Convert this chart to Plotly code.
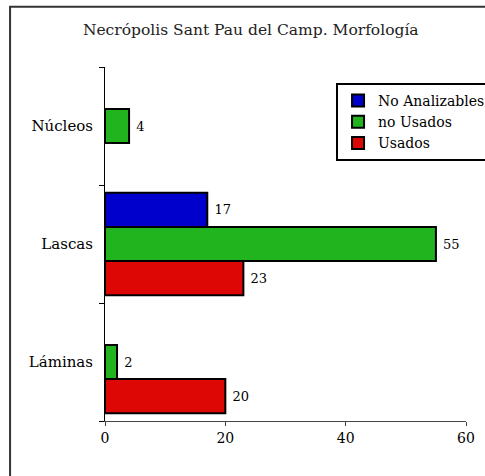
import plotly.graph_objects as go

categories = ["Láminas", "Lascas", "Núcleos"]
usados = [20, 23, None]
no_usados = [2, 55, 4]
no_analizables = [None, 17, None]
x_ticks = [0, 20, 40, 60]

FONT = "DejaVu Serif"

fig = go.Figure()
series = [
    ("Usados", usados, "#DD0806"),
    ("no Usados", no_usados, "#22B41E"),
    ("No Analizables", no_analizables, "#0000CC"),
]
for name, vals, col in series:
    fig.add_trace(go.Bar(
        name=name, y=categories, x=vals, orientation="h",
        marker=dict(color=col, line=dict(color="black", width=2)),
        text=[("" if v is None else " " + str(v)) for v in vals],
        textposition="outside", cliponaxis=False,
        textfont=dict(family=FONT, size=13, color="black"),
    ))

fig.update_layout(
    width=485, height=476,
    margin=dict(l=105, r=19, t=67, b=55, autoexpand=False),
    paper_bgcolor="white", plot_bgcolor="white",
    barmode="group", bargap=0.13, bargroupgap=0,
    font=dict(family=FONT, size=15, color="black"),
    title=dict(text="Necrópolis Sant Pau del Camp. Morfología",
               x=0.517, xanchor="center", y=0.937, yanchor="middle",
               font=dict(family=FONT, size=15.5, color="#222")),
    legend=dict(x=0.64, y=0.955, xanchor="left", yanchor="top",
                traceorder="reversed", bgcolor="white",
                bordercolor="black", borderwidth=2,
                font=dict(family=FONT, size=14, color="black"), itemwidth=30,
                tracegroupgap=0),
    showlegend=True,
    xaxis=dict(range=[0, 60], tickvals=x_ticks, showgrid=False, zeroline=False,
               showline=True, linecolor="#444", linewidth=1,
               ticks="outside", ticklen=4, tickcolor="#444",
               tickfont=dict(family=FONT, size=14)),
    yaxis=dict(categoryorder="array", categoryarray=categories,
               showgrid=False, zeroline=False, showline=True,
               linecolor="black", linewidth=1, ticks="outside",
               tickson="boundaries", ticklen=5, tickcolor="black",
               ticklabelstandoff=8,
               tickfont=dict(family=FONT, size=15)),
    shapes=[dict(type="rect", xref="paper", yref="paper",
                 x0=-0.263, x1=1.07, y0=-0.17, y1=1.17,
                 line=dict(color="#333", width=2), fillcolor="rgba(0,0,0,0)")],
)

fig.write_html("out.html", config={"displayModeBar": False},
               post_script="document.body.style.margin='0';document.body.style.overflow='hidden';")
